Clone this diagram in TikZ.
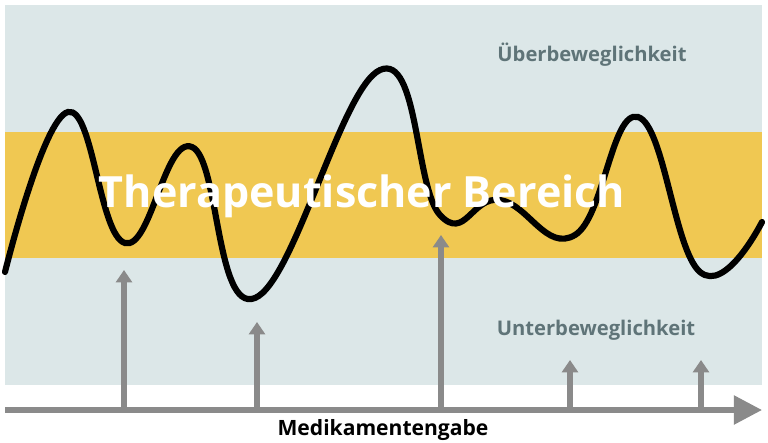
\documentclass[tikz,border=0pt]{standalone}
\usepackage{fontspec}
\setmainfont{Open Sans}
\usetikzlibrary{arrows.meta}
\definecolor{bgc}{HTML}{DCE7E8}
\definecolor{band}{HTML}{F0C852}
\definecolor{arr}{HTML}{8A8A8A}
\definecolor{lbl}{HTML}{5F7478}
\tikzset{dose/.style={arr,line width=3pt,-{Triangle[length=7pt,width=9pt]}},
 zone/.style={text=lbl,font=\bfseries\fontsize{11.5}{13}\selectfont}}
\begin{document}
\begin{tikzpicture}[x=0.02cm,y=-0.02cm]
\useasboundingbox (0,0) rectangle (768,443);
\fill[bgc] (5,5) rectangle (762,385);
\fill[band] (5,132) rectangle (762,258);
\node[zone] (ue) at (592,55) {Überbeweglichkeit};
\node[zone] (un) at (596,330) {Unterbeweglichkeit};
\draw[line width=3.5pt,line cap=round] plot[smooth,tension=0.75] coordinates {(5,272) (68,112) (125,243) (192,147) (255,298) (380,70) (440,215) (500,200) (575,235) (638,117) (700,272) (762,222)};
\node[text=white,font=\bfseries\fontsize{24.5}{28}\selectfont] (tb) at (362,196) {Therapeutischer Bereich};
\coordinate (a0) at (5,410);
\coordinate (a1) at (762,410);
\draw[arr,line width=3pt,-{Triangle[length=16pt,width=16pt]}] (a0) -- (a1);
\foreach \x/\y [count=\i] in {124/270,257/322,441/235,570/360,701/360}{
 \coordinate (b\i) at (\x,408); \coordinate (t\i) at (\x,\y);
 \draw[dose] (b\i) -- (t\i);}
\node[font=\bfseries\fontsize{12}{14}\selectfont] (mg) at (383,430) {Medikamentengabe};
\end{tikzpicture}
\end{document}
